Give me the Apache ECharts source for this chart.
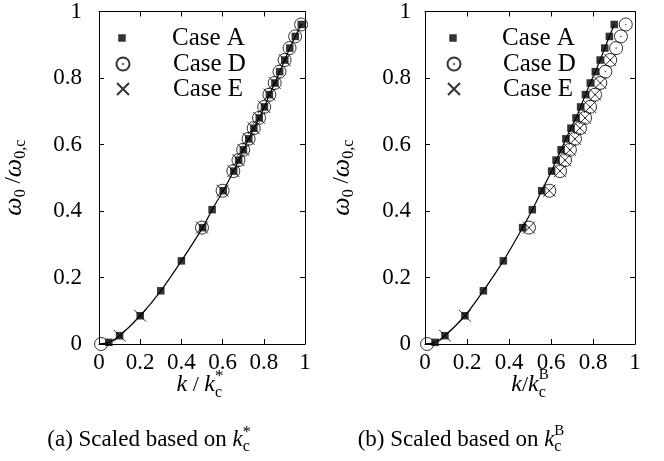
<!DOCTYPE html>
<html>
<head>
<meta charset="utf-8">
<script src="https://cdn.jsdelivr.net/npm/echarts@6.0.0/dist/echarts.min.js"></script>
<style>
  html, body { margin: 0; padding: 0; background: #fff; }
  #main { width: 664px; height: 461px; }
</style>
</head>
<body>
<div id="main"></div>
<script>
// values
const omegaA = [0.005, 0.025, 0.085, 0.16, 0.25, 0.35, 0.404, 0.461, 0.52, 0.553, 0.584, 0.617, 0.649, 0.68, 0.713, 0.75, 0.785, 0.819, 0.854, 0.89, 0.925, 0.961];
const kStarA = [0.048, 0.1, 0.2, 0.3, 0.4, 0.503, 0.549, 0.603, 0.654, 0.678, 0.701, 0.727, 0.752, 0.778, 0.803, 0.827, 0.854, 0.877, 0.902, 0.926, 0.953, 0.982];
const kBA = [0.048, 0.095, 0.19, 0.278, 0.373, 0.465, 0.511, 0.556, 0.603, 0.624, 0.648, 0.671, 0.695, 0.719, 0.741, 0.764, 0.787, 0.811, 0.834, 0.856, 0.878, 0.901];

const omegaD = [0, 0.35, 0.461, 0.52, 0.553, 0.584, 0.617, 0.649, 0.68, 0.713, 0.75, 0.785, 0.819, 0.854, 0.89, 0.925, 0.961];
const kStarD = [0.01, 0.5, 0.6, 0.652, 0.677, 0.7, 0.726, 0.751, 0.777, 0.802, 0.827, 0.853, 0.876, 0.901, 0.925, 0.952, 0.981];
const kBD = [0.01, 0.495, 0.592, 0.643, 0.667, 0.69, 0.714, 0.738, 0.762, 0.786, 0.81, 0.835, 0.859, 0.882, 0.91, 0.933, 0.956];

const omegaE = [0.025, 0.085, 0.35, 0.461, 0.52, 0.553, 0.584, 0.617, 0.649, 0.68, 0.713, 0.75, 0.785, 0.854];
const kStarE = [0.1, 0.2, 0.5, 0.6, 0.652, 0.677, 0.7, 0.726, 0.751, 0.777, 0.802, 0.827, 0.853, 0.901];
const kBE = [0.095, 0.19, 0.495, 0.592, 0.643, 0.667, 0.69, 0.714, 0.738, 0.762, 0.786, 0.81, 0.835, 0.882];

const caseNames = ['Case A', 'Case D', 'Case E'];

const SERIF = '"Liberation Serif", "DejaVu Serif", serif';
const CIRCLE_DOT = 'path://M10,0A10,10,0,1,1,-10,0A10,10,0,1,1,10,0ZM0.5,0A0.5,0.5,0,1,1,-0.5,0A0.5,0.5,0,1,1,0.5,0Z';
const CROSS = 'path://M0,0L10,10M10,0L0,10';

const zip = (xs, ys) => xs.map((x, i) => [x, ys[i]]);

function axis(grid, pos, showLabel, margin) {
  return {
    type: 'value', gridIndex: grid, position: pos,
    min: 0, max: 1, interval: 0.2,
    axisLine: {show: true, onZero: false, lineStyle: {color: '#000', width: 1}},
    axisTick: {show: true, inside: true, length: 5, lineStyle: {color: '#000', width: 1}},
    axisLabel: {show: showLabel, margin: margin, color: '#000', fontSize: 23, fontFamily: SERIF},
    splitLine: {show: false}
  };
}

function yName(ax, gap) {
  ax.name = '{w|ω}{s|0}{t| /}{w|ω}{s|0,c}';
  ax.nameLocation = 'middle';
  ax.nameGap = gap;
  ax.nameRotate = 90;
  ax.nameTextStyle = {
    rich: {
      w: {fontFamily: SERIF, fontStyle: 'italic', fontSize: 26, lineHeight: 30, color: '#000'},
      t: {fontFamily: SERIF, fontSize: 23, lineHeight: 30, color: '#000'},
      s: {fontFamily: SERIF, fontSize: 16, lineHeight: 17, verticalAlign: 'bottom', color: '#000'}
    }
  };
  return ax;
}

function seriesFor(grid, kA, kD, kE) {
  const xi = grid * 2, yi = grid * 2;
  const curve = [[0, 0]].concat(zip(kA, omegaA));
  return [
    {type: 'line', xAxisIndex: xi, yAxisIndex: yi, data: curve, smooth: 0.3, showSymbol: false,
      lineStyle: {color: '#000', width: 1.2}, z: 1, silent: true},
    {type: 'scatter', name: 'Case D', xAxisIndex: xi, yAxisIndex: yi, data: zip(kD, omegaD),
      symbol: CIRCLE_DOT, symbolSize: 13,
      itemStyle: {color: 'transparent', borderColor: '#000', borderWidth: 1}, z: 2},
    {type: 'scatter', name: 'Case E', xAxisIndex: xi, yAxisIndex: yi, data: zip(kE, omegaE),
      symbol: CROSS, symbolSize: 12,
      itemStyle: {color: 'transparent', borderColor: '#000', borderWidth: 1}, z: 3},
    {type: 'scatter', name: 'Case A', xAxisIndex: xi, yAxisIndex: yi, data: zip(kA, omegaA),
      symbol: 'rect', symbolSize: 7.5, itemStyle: {color: '#000'}, z: 4}
  ];
}

function legends(iconX, textX) {
  const icons = ['rect', CIRCLE_DOT, CROSS];
  const sizes = [7.5, 13, 12];
  const rows = [38, 64, 89];
  return caseNames.map((name, i) => ({
    data: [{name: name, icon: icons[i]}],
    left: iconX - sizes[i] / 2, top: rows[i] - 13,
    padding: 0, itemWidth: sizes[i], itemHeight: sizes[i],
    selectedMode: false,
    textStyle: {fontFamily: SERIF, fontSize: 25, color: '#000', lineHeight: 26,
      padding: [0, 0, 0, textX - (iconX + sizes[i] / 2 + 5)]}
  }));
}

// math-like text pieces laid out with measured widths
const measureCtx = document.createElement('canvas').getContext('2d');
function mathText(cx, cy, parts) {
  let x = 0, prevX = 0, prevW = 0;
  const placed = parts.map(p => {
    measureCtx.font = (p.italic ? 'italic ' : '') + p.size + 'px "Liberation Serif"';
    const w = measureCtx.measureText(p.t).width;
    let px;
    if (p.stack) { px = prevX; x = prevX + Math.max(prevW, w); }
    else { px = x; x += w; }
    prevX = px; prevW = w;
    return {p: p, px: px};
  });
  const x0 = cx - x / 2;
  return placed.map(({p, px}) => ({
    type: 'text', x: x0 + px, y: cy + (p.dy || 0), silent: true,
    style: {
      text: p.t, fontSize: p.size, fontFamily: 'Liberation Serif',
      fontStyle: p.italic ? 'italic' : 'normal', fill: '#000',
      align: 'left', verticalAlign: 'middle'
    }
  }));
}

const graphics = [].concat(
  mathText(200, 385, [
    {t: 'k', size: 24, italic: true}, {t: ' / ', size: 22}, {t: 'k', size: 24, italic: true},
    {t: '*', size: 17, dy: -8}, {t: 'c', size: 16, dy: 8, stack: true}
  ]),
  mathText(530, 385, [
    {t: 'k', size: 24, italic: true}, {t: '/', size: 22}, {t: 'k', size: 24, italic: true},
    {t: 'B', size: 15, dy: -10}, {t: 'c', size: 16, dy: 8, stack: true}
  ]),
  mathText(149, 440, [
    {t: '(a) Scaled based on ', size: 23}, {t: 'k', size: 23, italic: true},
    {t: '*', size: 16, dy: -7}, {t: 'c', size: 16, dy: 7, stack: true}
  ]),
  mathText(461, 440, [
    {t: '(b) Scaled based on ', size: 23}, {t: 'k', size: 23, italic: true},
    {t: 'B', size: 15, dy: -9}, {t: 'c', size: 16, dy: 7, stack: true}
  ])
);

const chart = echarts.init(document.getElementById('main'), null, {renderer: 'canvas'});
chart.setOption({
  animation: false,
  backgroundColor: '#fff',
  grid: [
    {left: 95, top: 8, width: 210, height: 336},
    {left: 425, top: 8, width: 210, height: 336}
  ],
  xAxis: [
    axis(0, 'bottom', true, 7), axis(0, 'top', false, 0),
    axis(1, 'bottom', true, 7), axis(1, 'top', false, 0)
  ],
  yAxis: [
    yName(axis(0, 'left', true, 17), 70), axis(0, 'right', false, 0),
    yName(axis(1, 'left', true, 14), 68), axis(1, 'right', false, 0)
  ],
  legend: legends(122, 172).concat(legends(453, 502)),
  graphic: graphics,
  series: seriesFor(0, kStarA, kStarD, kStarE).concat(seriesFor(1, kBA, kBD, kBE))
});
</script>
</body>
</html>
